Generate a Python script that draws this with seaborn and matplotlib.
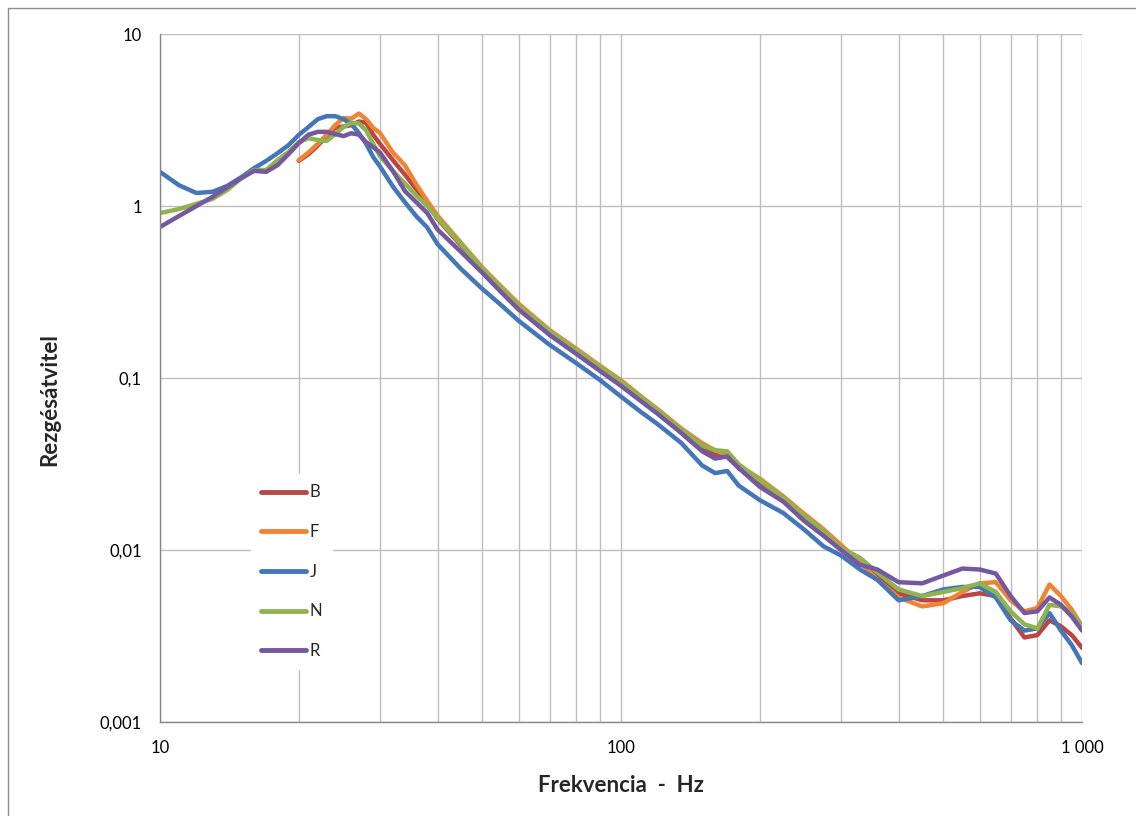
import numpy as np
import pandas as pd
import seaborn as sns
import matplotlib.pyplot as plt
from matplotlib.patches import Rectangle
from matplotlib.ticker import FixedLocator, NullFormatter

# Frequencies (Hz) shared by all series
freq = [10, 11, 12, 13, 14, 15, 16, 17, 18, 19, 20, 21, 22, 23, 24, 25, 26, 27, 28, 29,
        30, 32, 34, 36, 38, 40, 45, 50, 55, 60, 70, 80, 90, 100, 110, 120, 135, 150, 160,
        170, 180, 200, 225, 250, 275, 300, 330, 360, 400, 450, 500, 550, 600, 650, 700,
        750, 800, 850, 900, 950, 1000]

nan = np.nan
B = [nan, nan, nan, nan, nan, nan, nan, nan, nan, nan, 1.83, 2.0, 2.25, 2.55, 2.85, 2.9,
     2.95, 3.1, 3.05, 2.6, 2.3, 1.85, 1.52, 1.25, 1.04, 0.84, 0.59, 0.42, 0.325, 0.255,
     0.183, 0.143, 0.114, 0.093, 0.076, 0.064, 0.049, 0.039, 0.0357, 0.0347, 0.030,
     0.0245, 0.0196, 0.0156, 0.0126, 0.0102, 0.0085, 0.0071, 0.0056, 0.0051, 0.0051, 0.0054,
     0.0056, 0.0054, 0.0040, 0.0031, 0.0032, 0.0039, 0.0036, 0.0032, 0.0027]
F = [nan, nan, nan, nan, nan, nan, nan, nan, nan, nan, 1.85, 2.05, 2.3, 2.6, 2.95, 3.25,
     3.22, 3.45, 3.2, 2.85, 2.66, 2.05, 1.72, 1.33, 1.07, 0.88, 0.61, 0.44, 0.34, 0.27,
     0.19, 0.148, 0.118, 0.097, 0.079, 0.066, 0.051, 0.0418, 0.038, 0.0357, 0.031,
     0.026, 0.0205, 0.0162, 0.0132, 0.0107, 0.0085, 0.0067, 0.0053, 0.0047, 0.0049, 0.0057,
     0.0064, 0.0065, 0.0051, 0.0044, 0.0046, 0.0063, 0.0054, 0.0045, 0.0036]
J = [1.58, 1.32, 1.19, 1.21, 1.31, 1.47, 1.66, 1.83, 2.03, 2.26, 2.59, 2.88, 3.2, 3.33,
     3.33, 3.2, 3.0, 2.66, 2.3, 1.93, 1.7, 1.3, 1.05, 0.87, 0.75, 0.6, 0.43, 0.33,
     0.265, 0.215, 0.156, 0.122, 0.0974, 0.078, 0.064, 0.054, 0.042, 0.031, 0.028,
     0.0288, 0.0237, 0.0195, 0.0164, 0.0131, 0.0105, 0.0093, 0.0077, 0.0067, 0.0051,
     0.0054, 0.0059, 0.0061, 0.0061, 0.0053, 0.0039, 0.0034, 0.0035, 0.0043, 0.0034,
     0.0028, 0.0022]
N = [0.91, 0.96, 1.03, 1.1, 1.24, 1.45, 1.62, 1.62, 1.85, 2.06, 2.35, 2.48, 2.42, 2.39,
     2.62, 2.88, 3.05, 3.02, 2.75, 2.3, 1.95, 1.6, 1.35, 1.15, 1.0, 0.85, 0.6, 0.43,
     0.335, 0.262, 0.187, 0.145, 0.116, 0.095, 0.078, 0.065, 0.05, 0.0405, 0.038,
     0.0375, 0.0315, 0.0255, 0.02, 0.0158, 0.0128, 0.0103, 0.009, 0.0074, 0.0059, 0.0054,
     0.0057, 0.0060, 0.0064, 0.0057, 0.0044, 0.0037, 0.0035, 0.0048, 0.0047, 0.0043, 0.0036]
R = [0.755, 0.875, 1.0, 1.13, 1.29, 1.45, 1.6, 1.58, 1.73, 2.0, 2.32, 2.6, 2.7, 2.7,
     2.62, 2.55, 2.65, 2.6, 2.35, 2.2, 2.05, 1.6, 1.22, 1.05, 0.91, 0.73, 0.54, 0.41,
     0.315, 0.25, 0.178, 0.138, 0.11, 0.09, 0.074, 0.062, 0.048, 0.0375, 0.034, 0.035,
     0.030, 0.0233, 0.0191, 0.0147, 0.0121, 0.010, 0.0082, 0.0077, 0.0065, 0.0064, 0.0071,
     0.0078, 0.0077, 0.0073, 0.0054, 0.0043, 0.0044, 0.0053, 0.0048, 0.0041, 0.0034]

names = ['B', 'F', 'J', 'N', 'R']
colors = ['#BA4542', '#EE8434', '#4377B8', '#8FB34E', '#76589F']

frames = []
for name, vals in zip(names, [B, F, J, N, R]):
    frames.append(pd.DataFrame({'freq': freq, 'value': vals, 'series': name}))
df = pd.concat(frames).dropna()

sns.set_style('white')
plt.rcParams['font.family'] = ['Lato', 'DejaVu Sans']

fig = plt.figure(figsize=(11.36, 8.16), dpi=100)
ax = fig.add_axes([0.1408, 0.1152, 0.8117, 0.8431])

sns.lineplot(data=df, x='freq', y='value', hue='series', hue_order=names,
             palette=colors, estimator=None, linewidth=3.2, ax=ax)

ax.set_xscale('log')
ax.set_yscale('log')
ax.set_xlim(10, 1000)
ax.set_ylim(0.001, 10)

ax.set_xticks([10, 100, 1000])
ax.set_xticklabels(['10', '100', '1 000'])
ax.xaxis.set_minor_locator(FixedLocator([20, 30, 40, 50, 60, 70, 80, 90,
                                         200, 300, 400, 500, 600, 700, 800, 900]))
ax.xaxis.set_minor_formatter(NullFormatter())
ax.set_yticks([0.001, 0.01, 0.1, 1, 10])
ax.set_yticklabels(['0,001', '0,01', '0,1', '1', '10'])
ax.yaxis.set_minor_locator(FixedLocator([]))

ax.grid(True, which='major', color='#BEBEBE', linewidth=1)
ax.grid(True, which='minor', axis='x', color='#BEBEBE', linewidth=1)
ax.set_axisbelow(True)

for side in ['top', 'right']:
    ax.spines[side].set_visible(False)
for side in ['left', 'bottom']:
    ax.spines[side].set_color('#868686')
    ax.spines[side].set_linewidth(1)

ax.tick_params(axis='both', which='major', direction='out', length=5, width=1,
               color='#868686', labelsize=12, pad=8, labelcolor='black')
ax.tick_params(axis='both', which='minor', length=0)

ax.set_xlabel('Frekvencia  -  Hz', fontsize=16, fontweight='bold')
ax.set_ylabel('Rezgésátvitel', fontsize=16, fontweight='bold')
ax.xaxis.label.set_va('center')
ax.yaxis.label.set_va('center')
ax.xaxis.set_label_coords(0.5, -0.092)
ax.yaxis.set_label_coords(-0.119, 0.469)

leg = ax.legend(loc='upper left', bbox_to_anchor=(0.09, 0.372), frameon=True,
                fontsize=12, handlelength=2.7, handletextpad=0.2, labelspacing=1.42,
                borderpad=0.6, fancybox=False)
leg.get_frame().set_edgecolor('white')
leg.get_frame().set_facecolor('white')
leg.get_frame().set_alpha(1)
for line in leg.get_lines():
    line.set_linewidth(3.5)

fig.patches.append(Rectangle((8 / 1136, -0.01), 1.1, (816 - 8) / 816 + 0.01,
                             transform=fig.transFigure, fill=False,
                             edgecolor='#8C8C8C', linewidth=1))

fig.savefig('out.png', dpi=100)
